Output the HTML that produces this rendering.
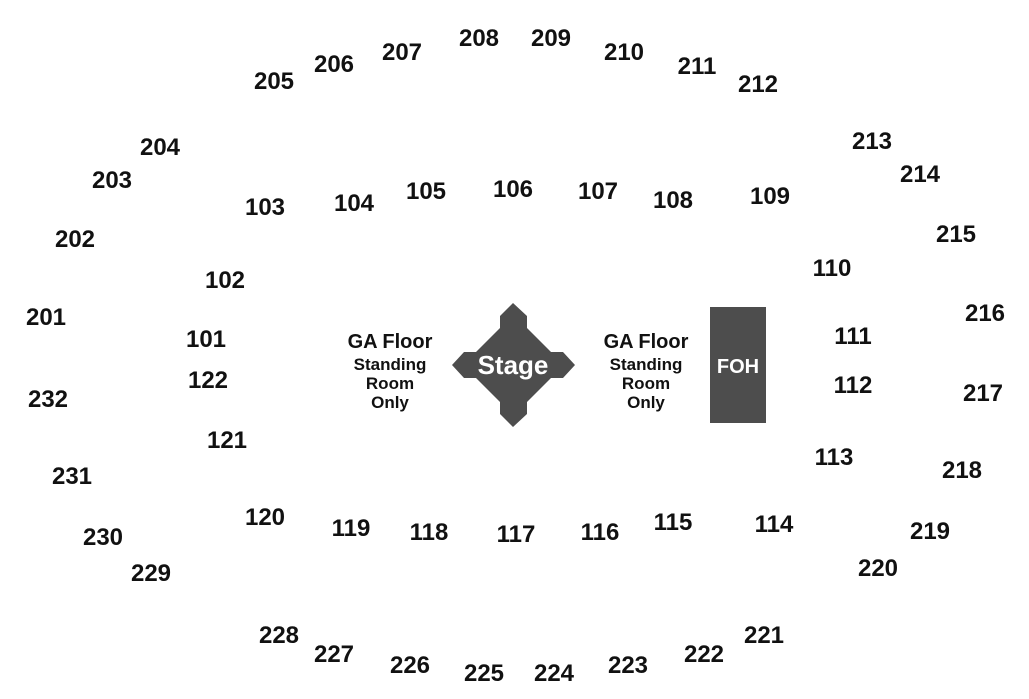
<!DOCTYPE html>
<html><head><meta charset="utf-8"><style>
body{margin:0;width:1029px;height:699px;background:#fff;position:relative;overflow:hidden;font-family:"Liberation Sans",Arial,sans-serif;font-weight:bold;color:#111}
.l{position:absolute;font-size:24px;transform:translate(-50%,-50%);white-space:nowrap;line-height:1}
.g{position:absolute;transform:translate(-50%,-50%);text-align:center;line-height:1}
.s{font-size:17px;line-height:19px;margin-top:3px}
</style></head><body>
<svg width="1029" height="699" style="position:absolute;left:0;top:0">
<polygon fill="#4d4d4d" points="513,303 527,316 527,328 551,352 563,352 575,365 563,378 551,378 527,402 527,414 513,427 500,414 500,402 476,378 464,378 452,365 464,352 476,352 500,328 500,316"/>
<rect x="710" y="307" width="56" height="116" fill="#4d4d4d"/>
<text x="513" y="374" fill="#fff" font-family="Liberation Sans,Arial,sans-serif" font-weight="bold" font-size="26" text-anchor="middle">Stage</text>
<text x="738" y="373" fill="#fff" font-family="Liberation Sans,Arial,sans-serif" font-weight="bold" font-size="20" text-anchor="middle">FOH</text>
</svg>
<div class="g" style="left:390px;top:372px"><div style="font-size:20px">GA Floor</div><div class="s">Standing<br>Room<br>Only</div></div>
<div class="g" style="left:646px;top:372px"><div style="font-size:20px">GA Floor</div><div class="s">Standing<br>Room<br>Only</div></div>
<div class="l" style="left:274px;top:82px">205</div>
<div class="l" style="left:334px;top:65px">206</div>
<div class="l" style="left:402px;top:53px">207</div>
<div class="l" style="left:479px;top:39px">208</div>
<div class="l" style="left:551px;top:39px">209</div>
<div class="l" style="left:624px;top:53px">210</div>
<div class="l" style="left:697px;top:67px">211</div>
<div class="l" style="left:758px;top:85px">212</div>
<div class="l" style="left:872px;top:142px">213</div>
<div class="l" style="left:920px;top:175px">214</div>
<div class="l" style="left:956px;top:235px">215</div>
<div class="l" style="left:985px;top:314px">216</div>
<div class="l" style="left:983px;top:394px">217</div>
<div class="l" style="left:962px;top:471px">218</div>
<div class="l" style="left:930px;top:532px">219</div>
<div class="l" style="left:878px;top:569px">220</div>
<div class="l" style="left:764px;top:636px">221</div>
<div class="l" style="left:704px;top:655px">222</div>
<div class="l" style="left:628px;top:666px">223</div>
<div class="l" style="left:554px;top:674px">224</div>
<div class="l" style="left:484px;top:674px">225</div>
<div class="l" style="left:410px;top:666px">226</div>
<div class="l" style="left:334px;top:655px">227</div>
<div class="l" style="left:279px;top:636px">228</div>
<div class="l" style="left:151px;top:574px">229</div>
<div class="l" style="left:103px;top:538px">230</div>
<div class="l" style="left:72px;top:477px">231</div>
<div class="l" style="left:48px;top:400px">232</div>
<div class="l" style="left:46px;top:318px">201</div>
<div class="l" style="left:75px;top:240px">202</div>
<div class="l" style="left:112px;top:181px">203</div>
<div class="l" style="left:160px;top:148px">204</div>
<div class="l" style="left:265px;top:208px">103</div>
<div class="l" style="left:354px;top:204px">104</div>
<div class="l" style="left:426px;top:192px">105</div>
<div class="l" style="left:513px;top:190px">106</div>
<div class="l" style="left:598px;top:192px">107</div>
<div class="l" style="left:673px;top:201px">108</div>
<div class="l" style="left:770px;top:197px">109</div>
<div class="l" style="left:832px;top:269px">110</div>
<div class="l" style="left:853px;top:337px">111</div>
<div class="l" style="left:853px;top:386px">112</div>
<div class="l" style="left:834px;top:458px">113</div>
<div class="l" style="left:774px;top:525px">114</div>
<div class="l" style="left:673px;top:523px">115</div>
<div class="l" style="left:600px;top:533px">116</div>
<div class="l" style="left:516px;top:535px">117</div>
<div class="l" style="left:429px;top:533px">118</div>
<div class="l" style="left:351px;top:529px">119</div>
<div class="l" style="left:265px;top:518px">120</div>
<div class="l" style="left:227px;top:441px">121</div>
<div class="l" style="left:208px;top:381px">122</div>
<div class="l" style="left:206px;top:340px">101</div>
<div class="l" style="left:225px;top:281px">102</div>
</body></html>
